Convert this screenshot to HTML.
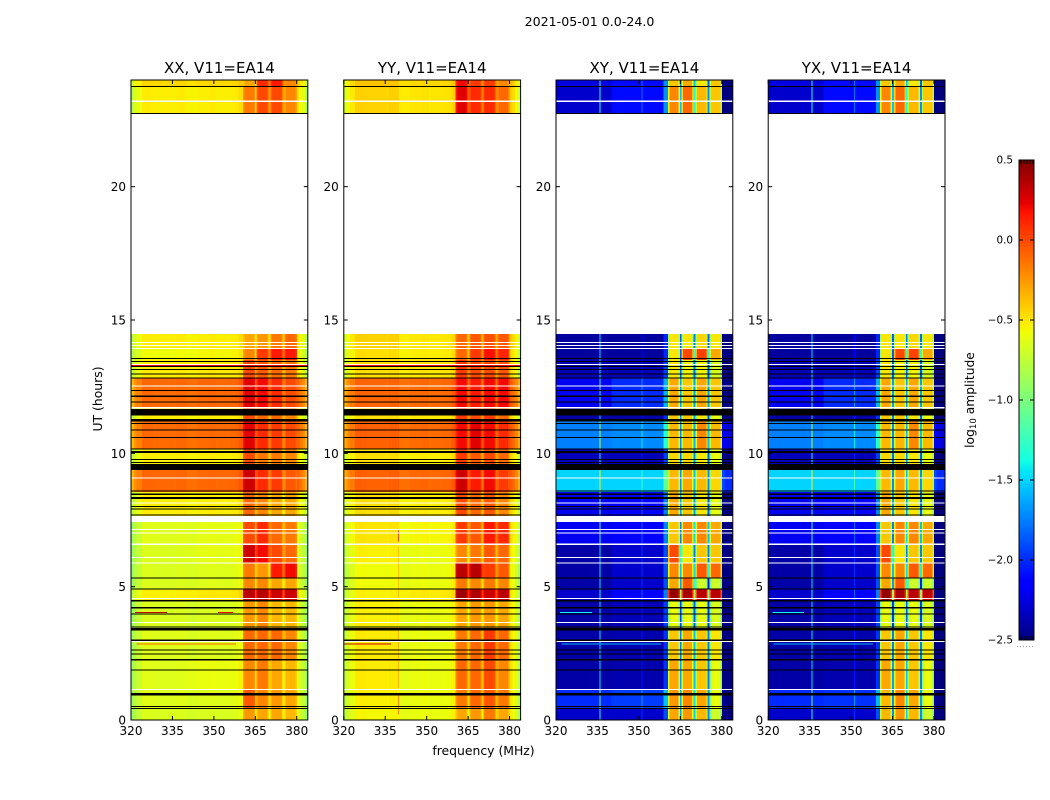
<!DOCTYPE html>
<html lang="en">
<head>
<meta charset="utf-8">
<title>2021-05-01 amplitude waterfall</title>
<style>
html,body{margin:0;padding:0;background:#fff;width:1050px;height:800px;overflow:hidden}
svg{display:block;font-family:"DejaVu Sans","Liberation Sans",sans-serif;fill:#000}
</style>
</head>
<body>
<svg id="chart" xmlns="http://www.w3.org/2000/svg" width="1050" height="800" viewBox="0 0 1050 800">
<text x="589.5" y="26" font-size="12.6" text-anchor="middle">2021-05-01 0.0-24.0</text>
<text x="483.5" y="755" font-size="12.4" text-anchor="middle">frequency (MHz)</text>
<text x="0" y="0" font-size="12.4" text-anchor="middle" transform="translate(102,399) rotate(-90)">UT (hours)</text>
<text x="0" y="0" font-size="12.3" text-anchor="middle" transform="translate(974,400) rotate(-90)">log<tspan font-size="8.6" dy="2">10</tspan><tspan dy="-2"> amplitude</tspan></text>
<g id="panels"></g>
<g id="colorbar"></g>
</svg>
<script>
// ---- axis domains ----
const freqDomain = [320, 384];
const hourDomain = [0, 24];
const colorDomain = [-2.5, 0.5];
const panelTitles = ['XX, V11=EA14', 'YY, V11=EA14', 'XY, V11=EA14', 'YX, V11=EA14'];
const freqTicks = [320, 335, 350, 365, 380];
const hourTicks = [0, 5, 10, 15, 20];
const colorTicks = [0.5, 0.0, -0.5, -1.0, -1.5, -2.0, -2.5];

// ---- frequency channels (MHz) ----
const channelEdges = [320,321,322,324,328,332,335.7,336.1,340,344,348,351,351.4,356,359,360.5,361.1,364.3,364.8,365.5,366,369.3,369.8,370.5,371,374.4,374.9,375.6,376.1,379.5,380,381,382,383,384];
// which level column of a band each channel reads (0,1 = low part of the band, 2-5 = the four sub-bands)
const channelRegion = [0,0,0,0,0,0,0,0, 1,1,1,1,1,1,1, 2,2,2,2, 3,3,3,3, 4,4,4,4, 5,5,5, 0,0,0,0];
// offset (log10) of each channel relative to its region level
const parallelShape = [-.22,-.12,-.05,.03,.02,.02,0,.03, 0,.02,.03,0,.02,.03,.08, -.08,0,-.05,-.32, -.08,0,-.05,-.3, -.08,0,-.05,-.3, -.08,0,-.08, .05,-.02,-.1,-.22];
const crossShape = [0,0,0,0,0,0,.95,0, 0,0,0,.3,0,0,.4, -.4,0,-.35,-1.35, -.35,0,-.3,-1.25, -.35,0,-.3,-1.35, -.35,0,-.4, -.4,-.5,-.5,-.5];

// ---- time bands (UT hours), start/end ----
const bandStart = [0,.45,1.13,2.25,3.45,4.5,4.91,5.33,5.89,6.56,7.65,8.55,9.37,10.16,11.21,11.7,12.82,13.5,13.91,22.73,23.74];
const bandEnd = [.45,1.13,2.25,3.45,4.5,4.91,5.33,5.89,6.56,7.46,8.55,9.37,10.16,11.21,11.7,12.82,13.5,13.91,14.47,23.74,24];

// ---- log10 amplitude per band: [low1, low2, sub1, sub2, sub3, sub4] ----
const xxLevels = [
[-.68,-.68,-.25,-.3,-.3,-.35],[-.66,-.66,-.05,-.2,-.25,-.3],[-.66,-.62,-.2,-.15,-.3,-.35],[-.66,-.66,-.1,-.1,-.1,-.2],[-.68,-.68,-.25,-.2,-.35,-.35],
[-.56,-.53,.35,.35,.3,.3],[-.68,-.66,-.2,-.2,-.3,-.3],[-.68,-.66,-.15,-.25,.15,.2],[-.68,-.64,.3,.2,0,-.1],[-.66,-.64,0,.1,-.1,-.15],
[-.55,-.55,-.1,-.2,-.3,-.3],[-.12,-.12,.3,.1,.05,-.05],[-.55,-.55,0,-.15,-.15,-.2],[-.13,-.13,.25,.1,.05,0],[-.55,-.55,0,-.1,-.1,-.2],
[-.13,-.12,.25,.2,.1,0],[-.55,-.54,0,-.05,-.1,-.15],[-.6,-.58,-.2,.05,.15,.15],[-.55,-.55,-.3,-.25,-.15,-.1],[-.55,-.55,-.15,0,0,-.2],[-.48,-.48,-.3,.1,.15,-.2]];
const yyLevels = [
[-.58,-.62,-.3,-.25,-.15,-.3],[-.56,-.62,-.15,-.1,-.05,-.15],[-.54,-.62,-.1,-.1,0,-.2],[-.54,-.62,-.15,-.1,.05,-.1],[-.56,-.62,-.3,-.25,-.25,-.3],
[-.56,-.54,.42,.38,.3,.35],[-.6,-.62,-.15,-.2,-.15,-.2],[-.6,-.62,.35,.35,.05,-.05],[-.56,-.62,-.2,-.15,-.05,-.1],[-.52,-.58,.05,-.05,.15,.1],
[-.5,-.55,0,-.1,-.05,-.2],[-.1,-.12,.3,.15,.2,.05],[-.5,-.55,.05,-.05,0,-.1],[-.1,-.13,.2,.25,.2,.1],[-.5,-.53,.05,0,.05,-.1],
[-.11,-.13,.2,.15,.2,.2],[-.5,-.53,.05,0,0,-.05],[-.5,-.55,-.1,.05,.18,.12],[-.46,-.53,-.1,-.05,-.02,-.05],[-.46,-.52,.25,.1,.1,-.1],[-.42,-.48,.2,.05,.05,-.2]];
const xyLevels = [
[-2.3,-2.3,-.3,-.25,-.35,-.7],[-2,-1.95,-.25,-.2,-.3,-.6],[-2.4,-2.38,-.3,-.3,-.4,-.6],[-2.4,-2.38,-.4,-.3,-.4,-.5],[-2.4,-2.35,-.6,-.6,-.6,-.65],
[-2.3,-2.15,.45,.4,.35,.35],[-2.4,-2.3,-.3,-.05,-.7,-.7],[-2.4,-2.3,-.2,-.2,-.05,-.1],[-2.4,-2.3,0,-.5,-.4,-.4],[-2.2,-2.15,-.4,-.2,-.2,-.3],
[-2.2,-2.15,-.3,-.4,-.5,-.6],[-1.5,-1.5,-.35,-.3,-.35,-.45],[-2.35,-2.35,-.45,-.45,-.5,-.6],[-1.75,-1.72,-.35,-.35,-.2,-.35],[-2.4,-2.4,-.4,-.4,-.5,-.6],
[-2.2,-2,-.3,-.4,-.3,-.4],[-2.35,-2.35,-.5,-.55,-.55,-.65],[-2.42,-2.42,-.5,0,.02,-.3],[-2.42,-2.42,-.5,-.5,-.45,-.5],[-2.3,-2.1,-.2,-.1,-.35,-.4],[-2.25,-2.1,-.4,-.3,-.5,-.4]];
const yxLevels = [
[-2.3,-2.3,-.35,-.25,-.35,-.7],[-2,-1.98,-.35,-.2,-.3,-.6],[-2.4,-2.38,-.3,-.3,-.4,-.6],[-2.4,-2.38,-.4,-.3,-.4,-.5],[-2.4,-2.35,-.6,-.6,-.6,-.65],
[-2.3,-2.15,.45,.4,.35,.35],[-2.4,-2.3,-.3,-.05,-.7,-.7],[-2.4,-2.3,-.2,-.2,-.05,-.1],[-2.4,-2.3,0,-.5,-.4,-.4],[-2.2,-2.15,-.4,-.2,-.2,-.3],
[-2.2,-2.15,-.3,-.4,-.5,-.6],[-1.5,-1.5,-.35,-.3,-.35,-.45],[-2.35,-2.35,-.45,-.45,-.5,-.6],[-1.75,-1.72,-.35,-.35,-.2,-.35],[-2.4,-2.4,-.4,-.4,-.5,-.6],
[-2.2,-2,-.3,-.4,-.3,-.4],[-2.35,-2.35,-.5,-.55,-.55,-.65],[-2.42,-2.42,-.5,0,.02,-.3],[-2.42,-2.42,-.5,-.5,-.45,-.5],[-2.3,-2.1,-.2,-.1,-.35,-.4],[-2.25,-2.1,-.4,-.3,-.5,-.4]];

// ---- narrow interference: [hourStart, hourEnd, mhzStart, mhzEnd, value] ----
const xxStreaks = [[13.27,13.31,320,384,.25],[4.01,4.05,321.5,333,.3],[4.01,4.05,351.5,357,.2],[2.83,2.87,322,358,-.1]];
const yyStreaks = [[13.27,13.31,320,384,.2],[2.83,2.87,320,337,.3],[6.7,7.1,339.7,340,0],[.2,1,339.7,340,-.2],[1.2,3.4,339.7,340,-.35],[4.6,6.5,339.7,340,-.4]];
const xyStreaks = [[4.01,4.05,321.5,333,-1.4],[2.83,2.87,322,358,-1.6]];
const yxStreaks = [[4.01,4.05,321.5,333,-1.4],[2.83,2.87,322,358,-1.6]];

// ---- flagged rows (black) and missing rows (white), UT hours ----
const flaggedStart = [.41,.48,.91,1.86,2.24,2.46,2.61,2.97,3.35,3.47,3.96,4.19,4.44,4.9,5.31,7.66,7.89,7.99,8.29,8.43,8.56,9.37,9.42,9.63,9.75,10.02,10.15,10.58,10.86,11.1,11.19,11.41,11.91,12.12,12.34,12.8,12.96,13.12,13.24,13.42,13.54,22.73,23.74];
const flaggedEnd =   [.45,.52,1.01,1.9,2.28,2.5,2.65,3.01,3.45,3.51,4,4.23,4.5,4.94,5.35,7.71,7.93,8.03,8.36,8.5,8.6,9.41,9.6,9.67,9.79,10.09,10.19,10.62,10.9,11.14,11.28,11.66,11.95,12.16,12.38,12.84,13,13.16,13.28,13.46,13.58,22.77,23.78];
const missingStart = [1.13,2.92,3.64,4.54,5.86,6.08,6.57,6.99,7.13,7.42,8.12,9.06,11.69,12.51,13.31,13.91,14.02,14.14,23.17];
const missingEnd =   [1.17,2.96,3.68,4.58,5.9,6.12,6.61,7.03,7.17,7.46,8.16,9.1,11.73,12.55,13.35,13.95,14.06,14.18,23.23];

// ---- scales ----
const panelLeft = [131, 343.8, 556, 768.2];
const panelWidth = 176.8;
const plotTop = 80, plotBottom = 720;
const barLeft = 1019, barRight = 1034, barTop = 160, barBottom = 640;
const NS = 'http://www.w3.org/2000/svg';
const xScale = (p, f) => panelLeft[p] + (f - freqDomain[0]) / (freqDomain[1] - freqDomain[0]) * panelWidth;
const yScale = h => plotBottom - (h - hourDomain[0]) / (hourDomain[1] - hourDomain[0]) * (plotBottom - plotTop);
const cScale = v => barBottom - (v - colorDomain[0]) / (colorDomain[1] - colorDomain[0]) * (barBottom - barTop);

function ramp(t, k) {
  for (let i = 1; i < k.length; i++) {
    if (t <= k[i][0]) return k[i-1][1] + (t - k[i-1][0]) / (k[i][0] - k[i-1][0]) * (k[i][1] - k[i-1][1]);
  }
  return k[k.length-1][1];
}
const jetR = [[0,0],[.35,0],[.66,1],[.89,1],[1,.5]];
const jetG = [[0,0],[.125,0],[.375,1],[.64,1],[.91,0],[1,0]];
const jetB = [[0,.5],[.11,1],[.34,1],[.65,0],[1,0]];
function jet(v) {
  const t = Math.max(0, Math.min(1, (v - colorDomain[0]) / (colorDomain[1] - colorDomain[0])));
  return 'rgb(' + [jetR, jetG, jetB].map(k => Math.round(255 * ramp(t, k))).join(',') + ')';
}
function mk(parent, tag, attrs, text) {
  const el = document.createElementNS(NS, tag);
  for (const k in attrs) el.setAttribute(k, attrs[k]);
  if (text !== undefined) el.textContent = text;
  parent.appendChild(el);
  return el;
}
function fmt(v) { return (v < 0 ? '\u2212' : '') + Math.abs(v).toFixed(1); }

const panelsRoot = document.getElementById('panels');
const levelSets = [xxLevels, yyLevels, xyLevels, yxLevels];
const shapeSets = [parallelShape, parallelShape, crossShape, crossShape];
const streakSets = [xxStreaks, yyStreaks, xyStreaks, yxStreaks];
const panelNames = ['xx', 'yy', 'xy', 'yx'];

panelTitles.forEach((title, p) => {
  const g = mk(panelsRoot, 'g', {});
  
  
  const cells = mk(g, 'g', {'shape-rendering': 'crispEdges'});
  
  

  bandStart.forEach((h0, b) => {
    for (let c = 0; c < channelRegion.length; c++) {
      const x0 = xScale(p, channelEdges[c]), x1 = xScale(p, channelEdges[c+1]);
      const y0 = yScale(bandEnd[b]), y1 = yScale(h0);
      const v = levelSets[p][b][channelRegion[c]] + shapeSets[p][c];
      const cell = mk(cells, 'rect', {x: x0.toFixed(2), y: y0.toFixed(2), width: (x1 - x0).toFixed(2), height: (y1 - y0).toFixed(2), fill: jet(v)});
      
      
    }
  });

  streakSets[p].forEach(s => {
    const r = mk(cells, 'rect', {x: xScale(p, s[2]).toFixed(2), y: yScale(s[1]).toFixed(2), width: Math.max(1, xScale(p, s[3]) - xScale(p, s[2])).toFixed(2), height: Math.max(1, yScale(s[0]) - yScale(s[1])).toFixed(2), fill: jet(s[4])});
    
    
  });

  missingStart.forEach((h0, i) => {
    const r = mk(cells, 'rect', {x: panelLeft[p], y: yScale(missingEnd[i]).toFixed(2), width: panelWidth, height: Math.max(1, yScale(h0) - yScale(missingEnd[i])).toFixed(2), fill: '#fff'});
    
    
  });
  flaggedStart.forEach((h0, i) => {
    const r = mk(cells, 'rect', {x: panelLeft[p], y: yScale(flaggedEnd[i]).toFixed(2), width: panelWidth, height: Math.max(1, yScale(h0) - yScale(flaggedEnd[i])).toFixed(2), fill: '#000'});
    
    
  });

  const frame = mk(g, 'rect', {x: panelLeft[p], y: plotTop, width: panelWidth, height: plotBottom - plotTop, fill: 'none', stroke: '#000', 'stroke-width': 1});
  
  

  const ttl = mk(g, 'text', {x: panelLeft[p] + panelWidth / 2, y: 73, 'font-size': 15, 'text-anchor': 'middle'}, title);
  
  

  freqTicks.forEach(f => {
    const x = xScale(p, f);
    const t1 = mk(g, 'line', {x1: x, x2: x, y1: plotBottom, y2: plotBottom - 4, stroke: '#000'});
    
    
    const t2 = mk(g, 'line', {x1: x, x2: x, y1: plotTop, y2: plotTop + 4, stroke: '#000'});
    
    
    const lab = mk(g, 'text', {x: x, y: 735, 'font-size': 12, 'text-anchor': 'middle'}, f);
    
    
  });
  hourTicks.forEach(h => {
    const y = yScale(h);
    const t1 = mk(g, 'line', {x1: panelLeft[p], x2: panelLeft[p] + 4, y1: y, y2: y, stroke: '#000'});
    
    
    const t2 = mk(g, 'line', {x1: panelLeft[p] + panelWidth - 4, x2: panelLeft[p] + panelWidth, y1: y, y2: y, stroke: '#000'});
    
    
    const lab = mk(g, 'text', {x: panelLeft[p] - 5, y: y + 4.5, 'font-size': 12, 'text-anchor': 'end'}, h);
    
    
  });
});

// ---- colour bar ----
const barRoot = document.getElementById('colorbar');
const barStrip = mk(barRoot, 'g', {'shape-rendering': 'crispEdges'});


const barSteps = 240;
for (let i = 0; i < barSteps; i++) {
  const v0 = colorDomain[0] + (colorDomain[1] - colorDomain[0]) * i / barSteps;
  const v1 = colorDomain[0] + (colorDomain[1] - colorDomain[0]) * (i + 1) / barSteps;
  const seg = mk(barStrip, 'rect', {x: barLeft, y: cScale(v1), width: barRight - barLeft, height: cScale(v0) - cScale(v1), fill: jet((v0 + v1) / 2)});
  
  
}
const barFrame = mk(barRoot, 'rect', {x: barLeft, y: barTop, width: barRight - barLeft, height: barBottom - barTop, fill: 'none', stroke: '#000'});


colorTicks.forEach(v => {
  const y = cScale(v);
  const a = mk(barRoot, 'line', {x1: barLeft, x2: barLeft + 4, y1: y, y2: y, stroke: '#000'});
  
  
  const b = mk(barRoot, 'line', {x1: barRight - 4, x2: barRight, y1: y, y2: y, stroke: '#000'});
  
  
  const lab = mk(barRoot, 'text', {x: 1013, y: y + 3.5, 'font-size': 10.4, 'text-anchor': 'end'}, fmt(v));
  
  
});
[1021, 1024, 1027, 1030, 1033].forEach(x => {
  const a = mk(barRoot, 'line', {x1: x, x2: x, y1: barTop, y2: barTop + 4, stroke: '#000'});
  
  
  const b = mk(barRoot, 'line', {x1: x, x2: x, y1: barBottom - 4, y2: barBottom, stroke: '#000'});
  
  
});
const dots = mk(barRoot, 'line', {x1: 1017, x2: 1035, y1: 646.5, y2: 646.5, stroke: '#999', 'stroke-dasharray': '1 2'});


</script>
</body>
</html>
